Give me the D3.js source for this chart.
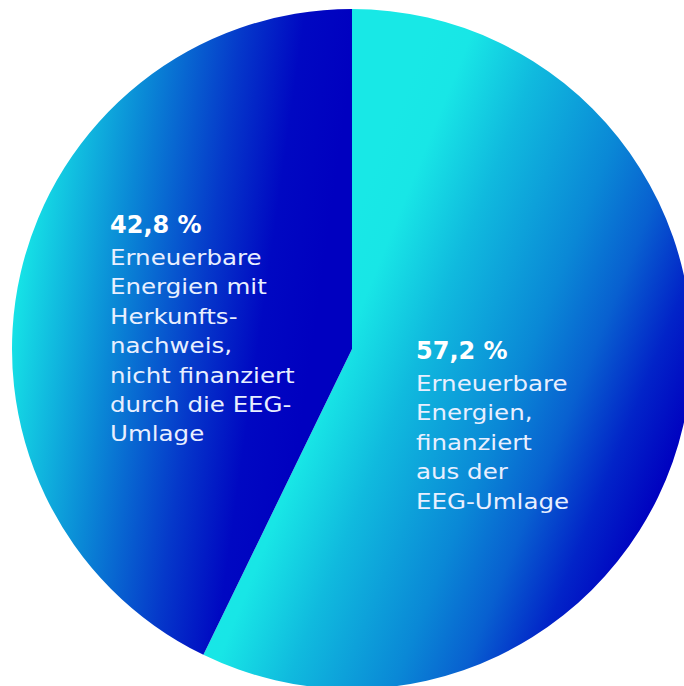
<!DOCTYPE html>
<html>
<head>
<meta charset="utf-8">
<script src="https://cdn.jsdelivr.net/npm/d3@7"></script>
<style>
  html, body { margin: 0; padding: 0; background: #fff; }
  svg { display: block; }
</style>
</head>
<body>
<svg id="canvas" width="684" height="686"></svg>
<script>
// Shares of renewable electricity (percent)
const shares = [57.2, 42.8];
const valueLabels = ['57,2 %', '42,8 %'];
const descLines = [
  ['Erneuerbare', 'Energien,', 'finanziert', 'aus der', 'EEG-Umlage'],
  ['Erneuerbare', 'Energien mit', 'Herkunfts-', 'nachweis,', 'nicht finanziert', 'durch die EEG-', 'Umlage']
];

const cx = 352, cy = 349, radius = 340;

// gradient for each slice (cyan -> deep blue), page coords
const gradients = [
  { id: 'gradA', x1: 430, y1: 30, x2: 801, y2: 180,
    stops: [[0, '#18e8e6'], [0.1, '#18e6e6'], [0.28, '#10bade'], [0.53, '#0a88d6'],
            [0.68, '#0860d0'], [0.83, '#0224c8'], [0.97, '#0000c0']] },
  { id: 'gradB', x1: 12, y1: 330, x2: 309, y2: 372,
    stops: [[0, '#16e2e6'], [0.33, '#0a88d6'], [0.62, '#0538ca'], [0.82, '#0008c2'], [1, '#0000c0']] }
];

// label anchor (left edge, baseline of the bold value) relative to the centre
const labelPos = [[64, 10], [-242, -116]];

const canvas = d3.select('#canvas');
const defs = canvas.append('defs');

gradients.forEach(g => {
  const lg = defs.append('linearGradient')
    .attr('id', g.id)
    .attr('gradientUnits', 'userSpaceOnUse')
    .attr('x1', g.x1 - cx).attr('y1', g.y1 - cy)
    .attr('x2', g.x2 - cx).attr('y2', g.y2 - cy);
  g.stops.forEach(s => {
    lg.append('stop').attr('offset', s[0]).attr('stop-color', s[1]);
  });
});

const pie = d3.pie().sort(null).value(d => d);
const arc = d3.arc().innerRadius(0).outerRadius(radius);

const g = canvas.append('g').attr('transform', `translate(${cx}, ${cy})`);

g.selectAll('path')
  .data(pie(shares))
  .enter()
  .append('path')
  .attr('d', arc)
  .attr('fill', (d, i) => `url(#${gradients[i].id})`);

const labels = g.selectAll('g.label')
  .data(shares)
  .enter()
  .append('g')
  .attr('class', 'label')
  .attr('transform', (d, i) => `translate(${labelPos[i][0]}, ${labelPos[i][1]})`);

labels.append('text')
  .attr('x', 0)
  .attr('y', 0)
  .attr('fill', '#fff')
  .attr('font-family', 'DejaVu Sans, sans-serif')
  .attr('font-weight', 'bold')
  .attr('font-size', 24)
  .text((d, i) => valueLabels[i]);

// the original face is wide and geometric, so stretch the text a bit
labels.each(function (d, i) {
  const t = d3.select(this).append('text')
    .attr('transform', 'scale(1.14, 1)')
    .attr('fill', '#e8efff')
    .attr('font-family', 'DejaVu Sans, sans-serif')
    .attr('font-size', 21.5);
  descLines[i].forEach((line, j) => {
    t.append('tspan')
      .attr('x', 0)
      .attr('y', 32 + j * 29.4)
      .text(line);
  });
});
</script>
</body>
</html>
